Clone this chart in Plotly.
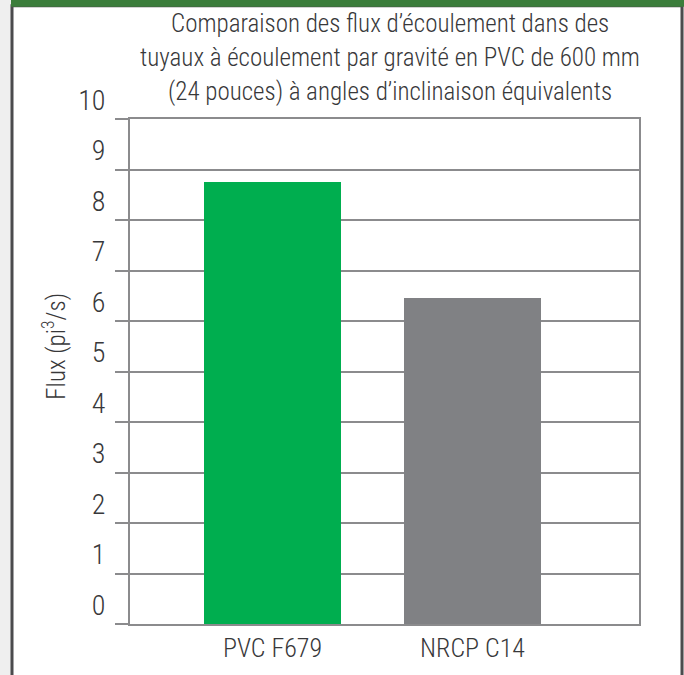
import plotly.graph_objects as go

# data
categories = ["PVC F679", "NRCP C14"]
flux_values = [8.75, 6.45]
bar_colors = ["#00ae4f", "#808184"]
y_ticks = [0, 1, 2, 3, 4, 5, 6, 7, 8, 9, 10]
title_lines = [
    "Comparaison des flux d\u2019écoulement dans des",
    "tuyaux à écoulement par gravité en PVC de 600 mm",
    "(24 pouces) à angles d\u2019inclinaison équivalents",
]
y_title = "Flux (pi<sup>3</sup>/s)"

W, H = 684, 675
# plot area in pixels
L, R, T, B = 130, 639, 119, 627

FONT = "Liberation Sans Narrow, Roboto Condensed, Arial Narrow, sans-serif"
TXT = "#38383a"
GRID = "#8b8b8d"


def px(x):
    return (x - L) / (R - L)


def py(y):
    return (B - y) / (B - T)


fig = go.Figure(go.Bar(
    x=categories,
    y=flux_values,
    marker=dict(color=bar_colors, line=dict(width=0)),
    width=0.685,
))

shapes = [
    # white card with dark border
    dict(type="rect", xref="paper", yref="paper", layer="below",
         x0=px(12), x1=px(682), y0=py(H + 10), y1=py(5),
         fillcolor="white", line=dict(color="#4b4b4d", width=3)),
    # green header strip
    dict(type="rect", xref="paper", yref="paper", layer="above",
         x0=px(11), x1=px(W + 5), y0=py(6), y1=py(-5),
         fillcolor="#3b7d3b", line=dict(width=0)),
]

annotations = []
for i, line in enumerate(title_lines):
    annotations.append(dict(
        text=line, xref="paper", yref="paper", showarrow=False,
        x=px(390), y=py(23 + i * 34), xanchor="center", yanchor="middle",
        font=dict(family=FONT, size=25, color=TXT, weight=300),
    ))
annotations.append(dict(
    text=y_title, xref="paper", yref="paper", showarrow=False,
    x=px(55), y=py(348), textangle=-90, xanchor="center", yanchor="middle",
    font=dict(family=FONT, size=25, color=TXT, weight=300),
))

fig.update_layout(
    width=W, height=H,
    margin=dict(l=L, r=W - R, t=T, b=H - B),
    paper_bgcolor="#efefef",
    plot_bgcolor="white",
    showlegend=False,
    bargap=0,
    shapes=shapes,
    annotations=annotations,
    font=dict(family=FONT, color=TXT),
)

fig.update_xaxes(
    range=[-0.7125, 1.8325],
    showline=True, mirror=True, linecolor=GRID, linewidth=2,
    showgrid=False, ticks="",
    tickfont=dict(family=FONT, size=26, color=TXT, weight=300),
)

fig.update_yaxes(
    range=[0, 10],
    tickvals=y_ticks,
    ticktext=[str(v) for v in y_ticks],
    showline=True, mirror=True, linecolor=GRID, linewidth=2,
    showgrid=True, gridcolor=GRID, gridwidth=2,
    ticks="outside", ticklen=13, tickwidth=2, tickcolor=GRID,
    ticklabelshift=-19, ticklabelstandoff=4,
    tickfont=dict(family=FONT, size=28, color=TXT, weight=300),
    zeroline=False,
)

# drop the default page margin so the figure sits at the window's corner
fig.write_html(
    "out.html",
    config={"displayModeBar": False},
    post_script="document.body.style.margin='0';",
)
